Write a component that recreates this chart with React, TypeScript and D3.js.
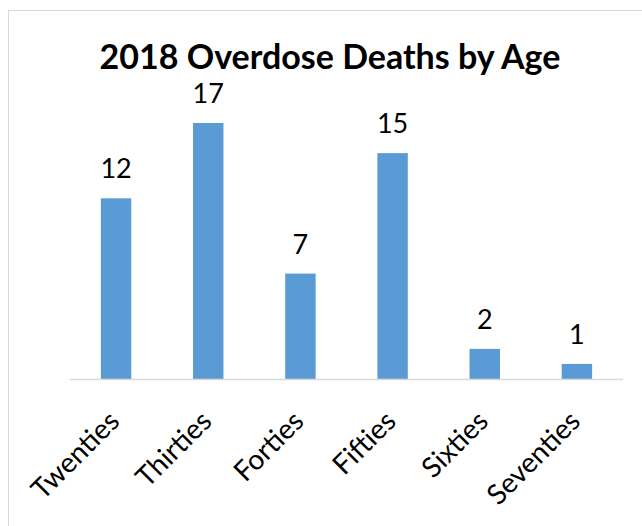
import React from "react";
import * as d3 from "d3";

const categories = ["Twenties", "Thirties", "Forties", "Fifties", "Sixties", "Seventies"];
const values = [12, 17, 7, 15, 2, 1];
const title = "2018 Overdose Deaths by Age";

export default function App() {
  const W = 642, H = 526;
  const x = d3.scaleBand<string>().domain(categories).range([70, 623]).paddingInner(0.67).paddingOuter(0.335);
  const y = d3.scaleLinear().domain([0, 17]).range([379, 123]);
  const font = "Lato, 'Open Sans', sans-serif";
  return (
    <svg width={W} height={H} style={{ position: "absolute", left: 0, top: 0 }} fontFamily={font}>
      <rect x={0} y={0} width={W} height={H} fill="#fff" />
      <rect x={8.5} y={10.5} width={W} height={H} fill="#fff" stroke="#d9d9d9" strokeWidth={1} />
      <text x={330} y={69} textAnchor="middle" fontSize={34} fontWeight="bold" fill="#000">{title}</text>
      {categories.map((c, i) => {
        const bx = x(c)!;
        const bw = x.bandwidth();
        const cx = bx + bw / 2;
        return (
          <g key={c}>
            <rect x={bx} y={y(values[i])} width={bw} height={379 - y(values[i])} fill="#5B9BD5" />
            <text x={cx} y={y(values[i]) - 20} textAnchor="middle" fontSize={27} fill="#000">{values[i]}</text>
            <text transform={`translate(${cx + 5},${423}) rotate(-45)`} textAnchor="end" fontSize={28} fill="#000">{c}</text>
          </g>
        );
      })}
      <line x1={70} x2={623} y1={379.5} y2={379.5} stroke="#d9d9d9" strokeWidth={1.5} />
    </svg>
  );
}
